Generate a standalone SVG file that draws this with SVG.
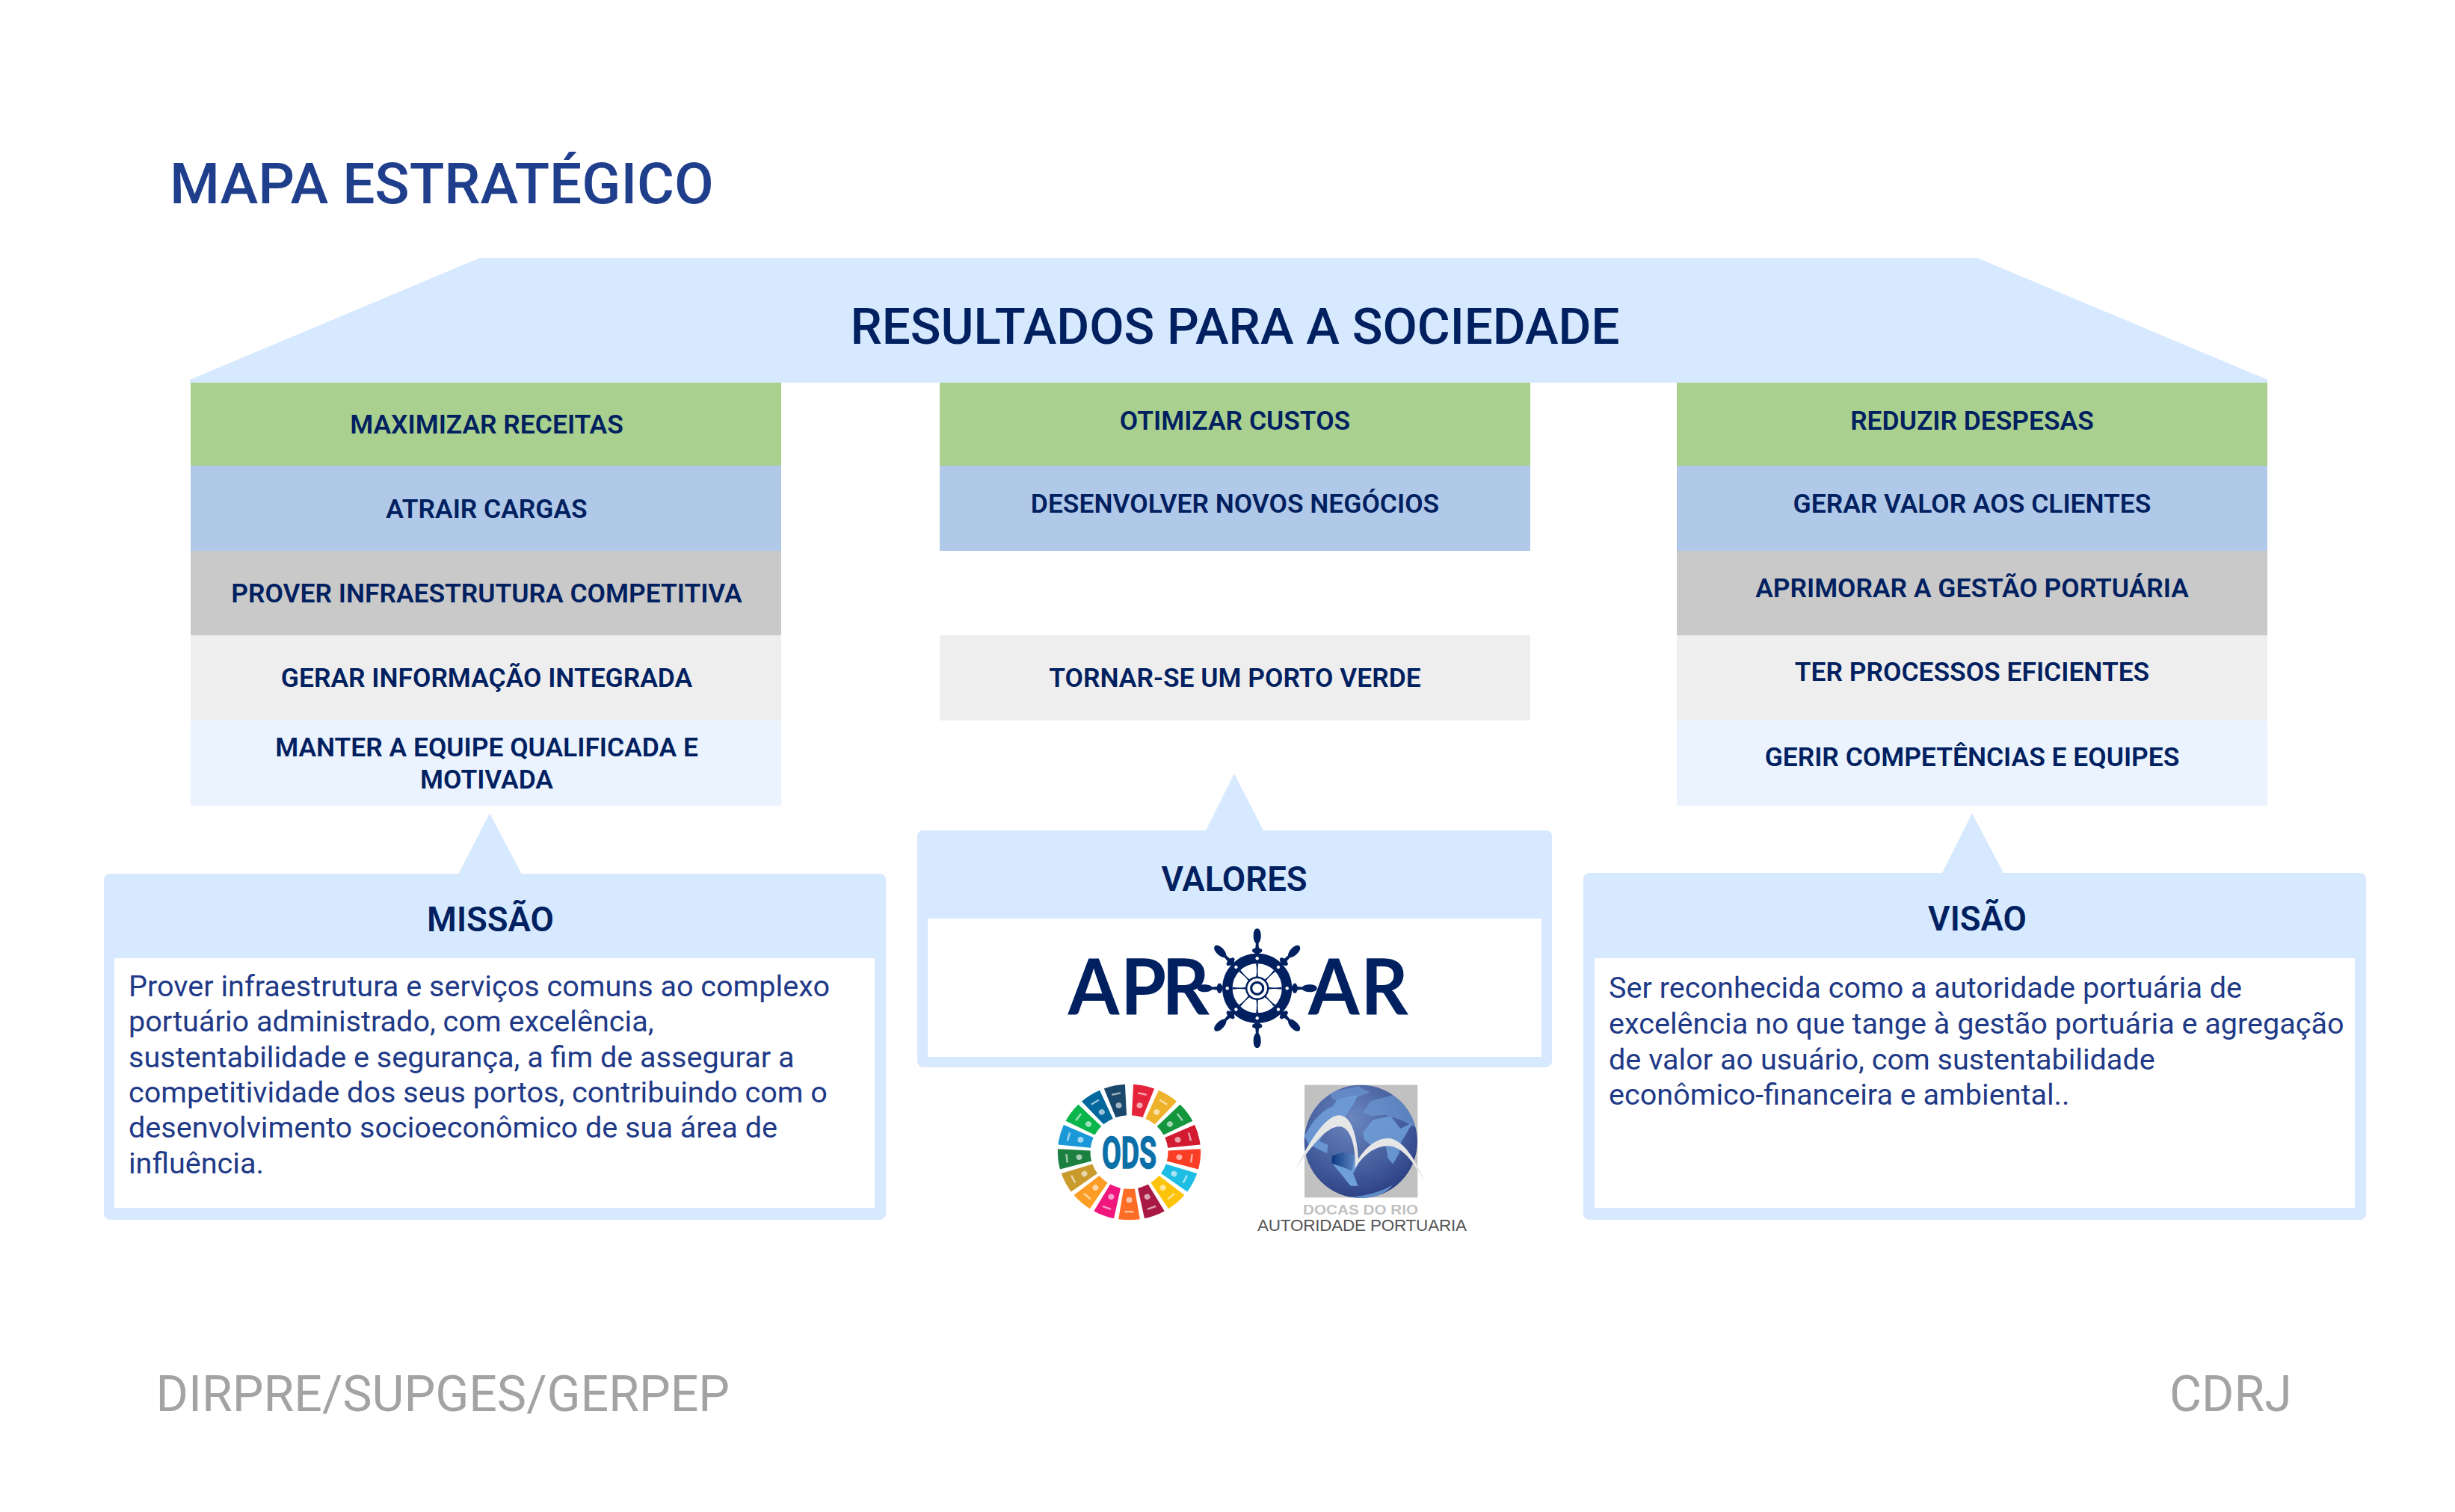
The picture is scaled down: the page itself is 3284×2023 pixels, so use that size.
<svg xmlns="http://www.w3.org/2000/svg" width="3284" height="2023" viewBox="0 0 3284 2023">
<style>
text{font-family:Roboto,"Liberation Sans",sans-serif}
.panel{fill:#d7e9fe}
.inner{fill:#fff}
.g{fill:#a9d08e}.b{fill:#b1c9e8}.c{fill:#c9c9c9}.l{fill:#eeeeee}.v{fill:#eaf3fe}
.row{font-size:35.400px;font-weight:600;fill:#002060;text-anchor:middle}
.head{font-size:45.500px;font-weight:600;fill:#002060;text-anchor:middle}
.body{font-size:39.600px;fill:#1f3a87}
.foot{font-size:66.200px;fill:#a3a3a3}
.logo{font-family:Lato,"Liberation Sans",sans-serif;font-size:104px;font-weight:700;fill:#002060}
.nv{fill:#002060}
.ic{fill:#fff;opacity:.6}
</style>
<defs>
<g id="handle" class="nv"><path d="M-2,-46 L-6.500,-49 L-6.500,-52 L-2.300,-54 L-1.800,-60 C-5,-64 -5,-68 -5,-71 C-5,-83 5,-83 5,-71 C5,-68 5,-64 1.800,-60 L2.300,-54 L6.500,-52 L6.500,-49 L2,-46 Z"/><path d="M-1.500,-33 C-.5,-26 -.5,-20 -1.500,-14 L1.500,-14 C.5,-20 .5,-26 1.500,-33 Z"/><circle cy="-40" r="2.200" fill="#fff"/></g>
<g id="wedge"><path d="M-7.500,-52 L-14.500,-95.500 A97,97 0 0 1 14.500,-95.500 L7.500,-52 A54,54 0 0 0 -7.500,-52 Z"/><circle class="ic" cy="-68" r="4"/><rect class="ic" x="-6" y="-86" width="12" height="2.500"/></g>
<radialGradient id="globe" cx=".42" cy=".3" r=".78"><stop offset="0" stop-color="#6a86bf"/><stop offset=".6" stop-color="#435c9b"/><stop offset="1" stop-color="#26397e"/></radialGradient>
<linearGradient id="brz" x1="0" x2="1" y1="0" y2="0"><stop offset="0" stop-color="#0d3a80"/><stop offset="1" stop-color="#5f86c4"/></linearGradient>
<clipPath id="gc"><circle cx="481" cy="292" r="227"/></clipPath>
</defs>

<g id="title"><text x="227" y="272" font-size="76.500" font-weight="500" fill="#1f3e8b">MAPA ESTRATÉGICO</text></g>

<g id="resultados">
<polygon class="panel" points="642,345 2645,345 3033,508 3033,512 254,512 254,508"/>
<text x="1652" y="460" font-size="67.300" font-weight="500" fill="#002060" text-anchor="middle">RESULTADOS PARA A SOCIEDADE</text>
</g>

<g id="col-left">
<g id="maximizar-receitas"><rect class="g" x="255" y="512" width="790" height="111"/><text class="row" x="651" y="580">MAXIMIZAR RECEITAS</text></g>
<g id="atrair-cargas"><rect class="b" x="255" y="623" width="790" height="114"/><text class="row" x="651" y="693">ATRAIR CARGAS</text></g>
<g id="prover-infraestrutura"><rect class="c" x="255" y="737" width="790" height="113"/><text class="row" x="651" y="806">PROVER INFRAESTRUTURA COMPETITIVA</text></g>
<g id="gerar-informacao"><rect class="l" x="255" y="850" width="790" height="114"/><text class="row" x="651" y="919">GERAR INFORMAÇÃO INTEGRADA</text></g>
<g id="manter-equipe"><rect class="v" x="255" y="964" width="790" height="114"/><text class="row" x="651" y="1012">MANTER A EQUIPE QUALIFICADA E</text><text class="row" x="651" y="1055">MOTIVADA</text></g>
</g>

<g id="col-mid">
<g id="otimizar-custos"><rect class="g" x="1257" y="512" width="790" height="111"/><text class="row" x="1652" y="575">OTIMIZAR CUSTOS</text></g>
<g id="desenvolver-negocios"><rect class="b" x="1257" y="623" width="790" height="114"/><text class="row" x="1652" y="686">DESENVOLVER NOVOS NEGÓCIOS</text></g>
<g id="porto-verde"><rect class="l" x="1257" y="850" width="790" height="114"/><text class="row" x="1652" y="919">TORNAR-SE UM PORTO VERDE</text></g>
</g>

<g id="col-right">
<g id="reduzir-despesas"><rect class="g" x="2243" y="512" width="790" height="111"/><text class="row" x="2638" y="575">REDUZIR DESPESAS</text></g>
<g id="gerar-valor"><rect class="b" x="2243" y="623" width="790" height="114"/><text class="row" x="2638" y="686">GERAR VALOR AOS CLIENTES</text></g>
<g id="aprimorar-gestao"><rect class="c" x="2243" y="737" width="790" height="113"/><text class="row" x="2638" y="799">APRIMORAR A GESTÃO PORTUÁRIA</text></g>
<g id="ter-processos"><rect class="l" x="2243" y="850" width="790" height="114"/><text class="row" x="2638" y="911">TER PROCESSOS EFICIENTES</text></g>
<g id="gerir-competencias"><rect class="v" x="2243" y="964" width="790" height="114"/><text class="row" x="2638" y="1025">GERIR COMPETÊNCIAS E EQUIPES</text></g>
</g>

<g id="connectors">
<polygon class="panel" points="655,1088 698,1170 613,1170"/>
<polygon class="panel" points="1651,1035 1691,1113 1612,1113"/>
<polygon class="panel" points="2638,1088 2681,1170 2597,1170"/>
</g>

<g id="missao">
<rect class="panel" x="139" y="1169" width="1046" height="463" rx="8"/>
<rect class="inner" x="153" y="1282" width="1017" height="334"/>
<text class="head" x="656" y="1246">MISSÃO</text>
<text class="body"><tspan x="172" y="1333">Prover infraestrutura e serviços comuns ao complexo</tspan><tspan x="172" y="1380">portuário administrado, com excelência,</tspan><tspan x="172" y="1427.500">sustentabilidade e segurança, a fim de assegurar a</tspan><tspan x="172" y="1475">competitividade dos seus portos, contribuindo com o</tspan><tspan x="172" y="1522">desenvolvimento socioeconômico de sua área de</tspan><tspan x="172" y="1569.500">influência.</tspan></text>
</g>

<g id="valores">
<rect class="panel" x="1227" y="1111" width="849" height="317" rx="8"/>
<rect class="inner" x="1241" y="1229" width="821" height="185"/>
<text class="head" x="1651" y="1192">VALORES</text>
<g id="aproar-logo">
<text class="logo" x="1504 1578 1636" y="0" transform="translate(0,1357) scale(.95,1)">APR</text>
<text class="logo" x="1842 1916" y="0" transform="translate(0,1357) scale(.95,1)">AR</text>
<g transform="translate(1681.700,1322.300)">
<circle r="39.800" fill="none" stroke="#002060" stroke-width="13.500"/>
<use href="#handle"/><use href="#handle" transform="rotate(45)"/><use href="#handle" transform="rotate(90)"/><use href="#handle" transform="rotate(135)"/><use href="#handle" transform="rotate(180)"/><use href="#handle" transform="rotate(225)"/><use href="#handle" transform="rotate(270)"/><use href="#handle" transform="rotate(315)"/>
<circle r="14.500" fill="#fff" stroke="#002060" stroke-width="2.500"/>
<circle r="8" fill="#fff" stroke="#002060" stroke-width="3.200"/>
</g>
</g>
</g>

<g id="ods-logo" transform="translate(1510.500,1541.500)">
<g transform="scale(.99,.94)">
<use href="#wedge" fill="#e5243b" transform="rotate(12)"/>
<use href="#wedge" fill="#eeb32a" transform="rotate(33)"/>
<use href="#wedge" fill="#14963f" transform="rotate(54)"/>
<use href="#wedge" fill="#d21b30" transform="rotate(75)"/>
<use href="#wedge" fill="#fa3d25" transform="rotate(96)"/>
<use href="#wedge" fill="#1ebde4" transform="rotate(117)"/>
<use href="#wedge" fill="#fdc30b" transform="rotate(138)"/>
<use href="#wedge" fill="#a81a44" transform="rotate(159)"/>
<use href="#wedge" fill="#fd6d25" transform="rotate(180)"/>
<use href="#wedge" fill="#f0167d" transform="rotate(201)"/>
<use href="#wedge" fill="#fd9d25" transform="rotate(222)"/>
<use href="#wedge" fill="#c99a2c" transform="rotate(243)"/>
<use href="#wedge" fill="#1c8040" transform="rotate(264)"/>
<use href="#wedge" fill="#1a98d8" transform="rotate(285)"/>
<use href="#wedge" fill="#0ab54b" transform="rotate(306)"/>
<use href="#wedge" fill="#02689d" transform="rotate(327)"/>
<use href="#wedge" fill="#19486a" transform="rotate(348)"/>
</g>
<text x="0" y="21.500" font-size="59" font-weight="700" fill="#0b6fa8" stroke="#0b6fa8" stroke-width="1.500" text-anchor="middle" textLength="73" lengthAdjust="spacingAndGlyphs">ODS</text>
</g>

<g id="docas-logo">
<g transform="translate(1660,1430) scale(.33333)">
<rect x="255" y="65" width="454" height="452" fill="#c1c1c1"/>
<circle cx="481" cy="292" r="227" fill="url(#globe)"/>
<g clip-path="url(#gc)" fill="#6f9fd8">
<path d="M255,270 C290,205 320,170 370,150 L385,122 L470,105 L450,145 L420,190 L345,235 L315,290 L350,305 L345,340 L305,320 L270,300 Z" opacity=".85"/>
<path d="M355,95 L470,70 L520,95 L445,120 L370,125 Z" opacity=".55"/>
<path d="M490,175 L520,130 L610,105 L700,170 L710,240 L640,205 L580,185 L520,190 Z" opacity=".6"/>
<path d="M490,255 L530,205 L600,190 L640,240 L690,215 L640,300 L635,340 L610,382 L590,360 L580,300 L520,305 L495,285 Z" opacity=".85"/>
<path d="M365,355 L400,335 L450,345 L470,385 L450,420 L470,470 L440,470 L400,420 L370,385 Z"/>
<path d="M365,350 L405,335 L460,345 L445,410 L410,395 L365,380 Z" fill="url(#brz)"/>
<path d="M440,515 C510,510 570,490 610,465 C570,515 500,530 440,520 Z" opacity=".8"/>
</g>
<path d="M218,405 C270,300 335,190 392,187 C445,186 465,270 471,362 C505,310 545,279 590,279 C650,280 705,370 740,460 C700,385 650,310 590,310 C540,310 490,345 458,400 C462,330 445,232 395,232 C340,232 280,315 218,405 Z" fill="#e6e6e6"/>
</g>
<text x="1743" y="1625" font-size="18.500" font-weight="700" fill="#c1c1c1" textLength="154" lengthAdjust="spacingAndGlyphs" style="font-family:'Liberation Sans',sans-serif">DOCAS DO RIO</text>
<text x="1682" y="1647" font-size="22.500" fill="#555" textLength="280" lengthAdjust="spacing" style="font-family:'Liberation Sans',sans-serif">AUTORIDADE PORTUARIA</text>
</g>

<g id="visao">
<rect class="panel" x="2118" y="1168" width="1047" height="464" rx="8"/>
<rect class="inner" x="2133" y="1282" width="1017" height="334"/>
<text class="head" x="2645" y="1245">VISÃO</text>
<text class="body"><tspan x="2152" y="1335">Ser reconhecida como a autoridade portuária de</tspan><tspan x="2152" y="1383">excelência no que tange à gestão portuária e agregação</tspan><tspan x="2152" y="1431">de valor ao usuário, com sustentabilidade</tspan><tspan x="2152" y="1478">econômico-financeira e ambiental..</tspan></text>
</g>

<g id="footer">
<text class="foot" x="208.500" y="1888">DIRPRE/SUPGES/GERPEP</text>
<text class="foot" x="2902" y="1888">CDRJ</text>
</g>
</svg>
